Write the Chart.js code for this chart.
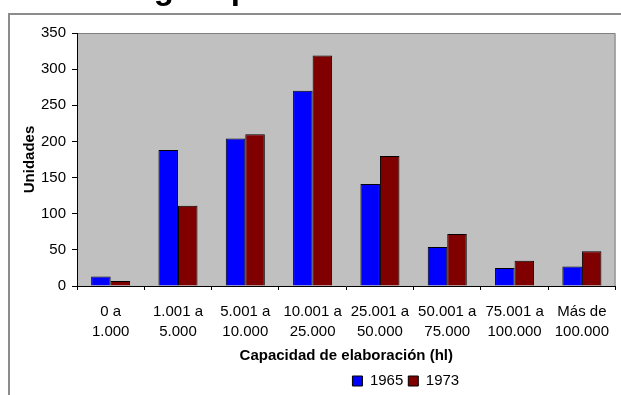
<!DOCTYPE html>
<html>
<head>
<meta charset="utf-8">
<script src="https://cdn.jsdelivr.net/npm/chart.js@4/dist/chart.umd.min.js"></script>
<style>
  html, body { margin: 0; padding: 0; background: #fff; }
  #wrap { position: relative; width: 621px; height: 395px; overflow: hidden; }
  #chart { position: absolute; left: 0; top: 0; }
  #heading {
    position: absolute; left: 18px; top: -28px; white-space: nowrap;
    font: bold 33px "Liberation Sans", Arial, sans-serif; line-height: 32px; color: #000;
  }
</style>
</head>
<body>
<div id="wrap">
  <canvas id="chart" width="621" height="395"></canvas>
  <div id="heading">C - Bodegas que elaboran en Montilla</div>
</div>
<script>
// Capacity bands (hl), one entry per category, split over two lines
const categories = [
  ["0 a", "1.000"],
  ["1.001 a", "5.000"],
  ["5.001 a", "10.000"],
  ["10.001 a", "25.000"],
  ["25.001 a", "50.000"],
  ["50.001 a", "75.000"],
  ["75.001 a", "100.000"],
  ["Más de", "100.000"]
];
const seriesNames = ["1965", "1973"];
const values1965 = [13, 188, 204, 270, 141, 54, 25, 27];
const values1973 = [7, 111, 210, 319, 180, 72, 35, 48];
const yTicks = [0, 50, 100, 150, 200, 250, 300, 350];

const FONT = '"Liberation Sans", Arial, sans-serif';

// Paints the outer frame and the grey plot background
const backdrop = {
  id: 'backdrop',
  beforeDraw(chart) {
    const { ctx, chartArea: a } = chart;
    ctx.save();
    ctx.fillStyle = '#ffffff';
    ctx.fillRect(0, 0, chart.width, chart.height);
    ctx.strokeStyle = '#8c8c8c';
    ctx.lineWidth = 2;
    ctx.beginPath();
    ctx.moveTo(9, chart.height);
    ctx.lineTo(9, 14);
    ctx.lineTo(chart.width, 14);
    ctx.stroke();
    ctx.fillStyle = '#c0c0c0';
    ctx.fillRect(a.left, a.top, a.right - a.left, a.bottom - a.top);
    ctx.strokeStyle = '#808080';
    ctx.lineWidth = 1;
    ctx.beginPath();
    ctx.moveTo(a.left, a.top + 0.5);
    ctx.lineTo(a.right - 0.5, a.top + 0.5);
    ctx.lineTo(a.right - 0.5, a.bottom);
    ctx.stroke();
    ctx.restore();
  }
};

// The legend sits right of the canvas centre
const legendShift = {
  id: 'legendShift',
  afterLayout(chart) {
    if (chart.legend) {
      chart.legend.left += 84;
      chart.legend.right += 84;
    }
  }
};

new Chart(document.getElementById('chart'), {
  type: 'bar',
  data: {
    labels: categories,
    datasets: [
      { label: seriesNames[0], data: values1965, backgroundColor: '#0000ff', borderColor: '#000000', borderWidth: 1 },
      { label: seriesNames[1], data: values1973, backgroundColor: '#800000', borderColor: '#000000', borderWidth: 1 }
    ]
  },
  options: {
    responsive: false,
    animation: false,
    layout: { padding: { left: 21, top: 33, right: -1.6, bottom: -3.5 } },
    datasets: { bar: { categoryPercentage: 0.58, barPercentage: 1.0 } },
    plugins: {
      legend: {
        position: 'bottom',
        labels: {
          boxWidth: 10, boxHeight: 10, padding: 5, color: '#000',
          font: { family: FONT, size: 15 }
        }
      },
      tooltip: { enabled: false },
      title: { display: false }
    },
    scales: {
      x: {
        grid: { display: true, drawOnChartArea: false, color: '#000', tickLength: 4, offset: true },
        border: { color: '#000', width: 1 },
        ticks: {
          color: '#000', padding: 12, maxRotation: 0, autoSkip: false,
          font: { family: FONT, size: 15, lineHeight: 1.33 }
        },
        title: {
          display: true, text: 'Capacidad de elaboración (hl)', color: '#000',
          font: { family: FONT, size: 15, weight: 'bold' }, padding: { top: 0, bottom: 3.5 }
        },
        afterFit(scale) { scale.height = 82.5; }
      },
      y: {
        min: 0, max: 350,
        afterBuildTicks(scale) { scale.ticks = yTicks.map(v => ({ value: v })); },
        grid: { display: true, drawOnChartArea: false, color: '#000', tickLength: 5 },
        border: { color: '#000', width: 1 },
        ticks: { color: '#000', padding: 6, font: { family: FONT, size: 15 } },
        title: {
          display: true, text: 'Unidades', color: '#000',
          font: { family: FONT, size: 15, weight: 'bold' }, padding: 0
        },
        afterFit(scale) { scale.width = 56; }
      }
    }
  },
  plugins: [backdrop, legendShift]
});
</script>
</body>
</html>
